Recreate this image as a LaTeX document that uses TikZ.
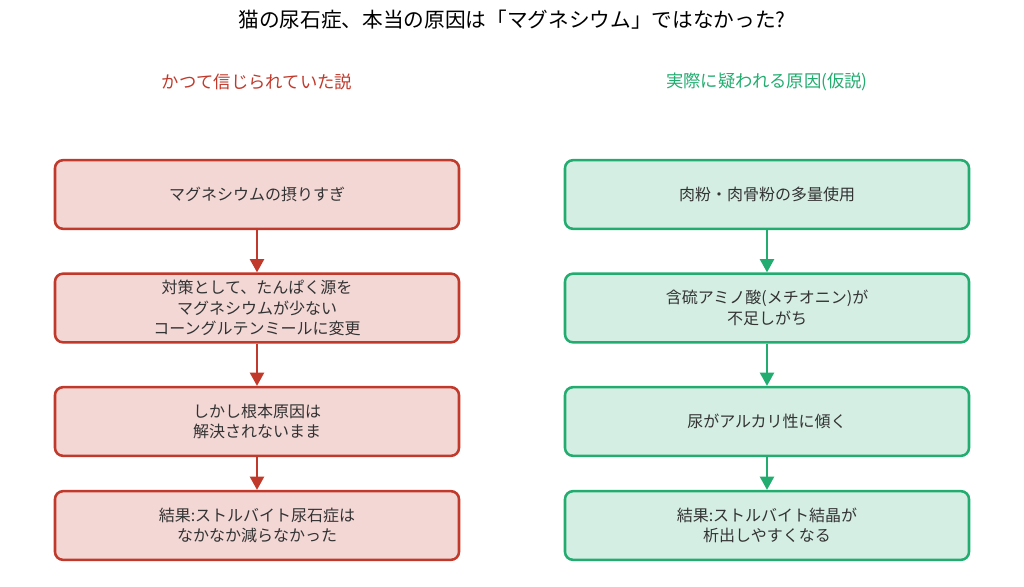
\documentclass[tikz,border=0pt]{standalone}
\usepackage{fontspec}
\setmainfont{Noto Sans CJK JP}
\usetikzlibrary{arrows.meta}
\definecolor{oldred}{RGB}{192,57,43}
\definecolor{oldfill}{RGB}{242,215,213}
\definecolor{newgreen}{RGB}{35,172,112}
\definecolor{newfill}{RGB}{213,238,228}
\definecolor{boxtext}{RGB}{51,51,51}
\tikzset{
  oldbox/.style={draw=oldred,fill=oldfill,line width=1.9pt,rounded corners=6pt,
    minimum width=303pt,minimum height=51.5pt,align=center,text=boxtext,
    font=\fontsize{12}{15.4}\selectfont},
  newbox/.style={oldbox,draw=newgreen,fill=newfill},
  oldarrow/.style={draw=oldred,line width=1.9pt,-{Triangle[width=10.5pt,length=10pt]}},
  newarrow/.style={oldarrow,draw=newgreen,fill=newgreen},
}
\begin{document}
\begin{tikzpicture}[x=0.75pt,y=-0.75pt]
    \useasboundingbox (0,0) rectangle (1024,586);
    \node[font=\fontsize{15.5}{18}\selectfont] (title) at (512,20) {猫の尿石症、本当の原因は「マグネシウム」ではなかった?};
    \node[text=oldred,font=\fontsize{13}{16}\selectfont] (oldhead) at (257,82) {かつて信じられていた説};
    \node[text=newgreen,font=\fontsize{13}{16}\selectfont] (newhead) at (767,82) {実際に疑われる原因(仮説)};
    % left column
    \node[oldbox] (old1) at (257,194.5) {マグネシウムの摂りすぎ};
    \node[oldbox] (old2) at (257,308) {対策として、たんぱく源を\\マグネシウムが少ない\\コーングルテンミールに変更};
    \node[oldbox] (old3) at (257,421.5) {しかし根本原因は\\解決されないまま};
    \node[oldbox] (old4) at (257,525.5) {結果:ストルバイト尿石症は\\なかなか減らなかった};
    \draw[oldarrow,fill=oldred] (old1) -- (old2);
    \draw[oldarrow,fill=oldred] (old2) -- (old3);
    \draw[oldarrow,fill=oldred] (old3) -- (old4);
    % right column
    \node[newbox] (new1) at (767,194.5) {肉粉・肉骨粉の多量使用};
    \node[newbox] (new2) at (767,308) {含硫アミノ酸(メチオニン)が\\不足しがち};
    \node[newbox] (new3) at (767,421.5) {尿がアルカリ性に傾く};
    \node[newbox] (new4) at (767,525.5) {結果:ストルバイト結晶が\\析出しやすくなる};
    \draw[newarrow] (new1) -- (new2);
    \draw[newarrow] (new2) -- (new3);
    \draw[newarrow] (new3) -- (new4);
  \end{tikzpicture}
\end{document}
